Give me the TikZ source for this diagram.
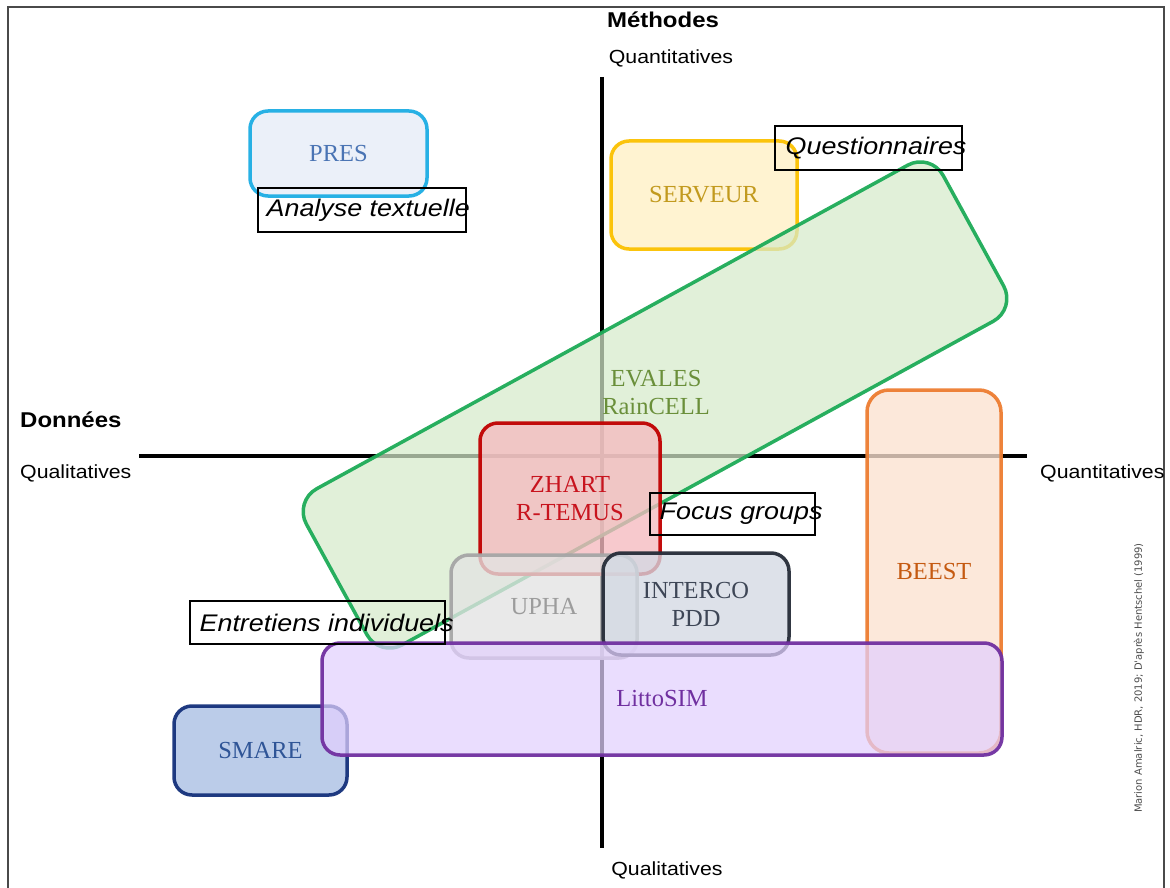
\documentclass[tikz,border=0pt]{standalone}
\usepackage{fontspec}
\newfontfamily\mysans[FakeStretch=1.12]{Liberation Sans}
\newfontfamily\myserif{Liberation Serif}
\newfontfamily\mycredit{DejaVu Sans}
\definecolor{presS}{HTML}{1CADE4}\definecolor{presF}{HTML}{E6ECF7}\definecolor{presT}{HTML}{4A74B4}
\definecolor{servS}{HTML}{FBC100}\definecolor{servF}{HTML}{FFEFC4}\definecolor{servT}{HTML}{C29A1E}
\definecolor{evaS}{HTML}{1DAB57}\definecolor{evaF}{HTML}{D5EACB}\definecolor{evaT}{HTML}{6A8F3A}
\definecolor{zhS}{HTML}{C00000}\definecolor{zhF}{HTML}{F5BABF}\definecolor{zhT}{HTML}{C8141E}
\definecolor{upS}{HTML}{A6A6A6}\definecolor{upF}{HTML}{E3E3E3}\definecolor{upT}{HTML}{9C9C9C}
\definecolor{inS}{HTML}{262C38}\definecolor{inF}{HTML}{D3D9E3}\definecolor{inT}{HTML}{3E4656}
\definecolor{liS}{HTML}{7030A0}\definecolor{liF}{HTML}{E2D0FE}\definecolor{liT}{HTML}{7030A0}
\definecolor{smS}{HTML}{14307A}\definecolor{smF}{HTML}{B4C7E7}\definecolor{smT}{HTML}{2F5597}
\definecolor{beS}{HTML}{ED7D31}\definecolor{beF}{HTML}{FBE1D0}\definecolor{beT}{HTML}{C55A11}
\definecolor{frameC}{HTML}{4A4A4A}
\tikzset{
  pbox/.style={draw, rounded corners=18pt, line width=3.5pt, fill opacity=0.78, draw opacity=0.95, text opacity=1,
    inner sep=0pt, align=center, font=\myserif\fontsize{24.5}{28}\selectfont},
  lblbox/.style={draw=black, line width=1.1pt, inner sep=0pt},
  lbltext/.style={font=\mysans\itshape\fontsize{24}{28}\selectfont, inner sep=0pt, anchor=west},
  axtext/.style={font=\mysans\fontsize{19}{22}\selectfont, inner sep=0pt},
  axtitle/.style={font=\mysans\bfseries\fontsize{21.4}{24}\selectfont, inner sep=0pt},
  axisline/.style={line width=4pt, black}
}
\begin{document}
\begin{tikzpicture}[x=1pt,y=-1pt]
\useasboundingbox (0,0) rectangle (1170,888);
% frame
\coordinate (f1) at (8,890); \coordinate (f2) at (8,7); \coordinate (f3) at (1164,7); \coordinate (f4) at (1164,890);
\draw[frameC, line width=2pt] (f1) -- (f2) -- (f3) -- (f4);
% axes
\coordinate (vtop) at (602,77); \coordinate (vbot) at (602,848);
\coordinate (hl) at (139,456); \coordinate (hr) at (1027,456);
\draw[axisline] (vtop) -- (vbot);
\draw[axisline] (hl) -- (hr);
% axis texts
\node[axtitle] (meth) at (663,20) {Méthodes};
\node[axtext] (qtop) at (671,58) {Quantitatives};
\node[axtext] (qbot) at (667,870) {Qualitatives};
\node[axtitle, anchor=west] (donn) at (20,420) {Données};
\node[axtext, anchor=west] (qleft) at (20,473) {Qualitatives};
\node[axtext, anchor=west] (qright) at (1040,473) {Quantitatives};
\node[font=\mycredit\fontsize{10}{12}\selectfont, text=black!70, rotate=90, inner sep=0pt] (credit) at (1139,678) {Marion Amalric, HDR, 2019; D'après Hentschel (1999)};
% boxes
\node[pbox, draw=presS, fill=presF, text=presT, minimum width=177pt, minimum height=85pt] (pres) at (338.5,153.5) {PRES};
\node[pbox, draw=servS, fill=servF, text=servT, minimum width=186pt, minimum height=108pt] (serv) at (704,195) {SERVEUR};
\node[pbox, draw=evaS, fill=evaF, fill opacity=0.72, rounded corners=26pt, minimum width=726pt, minimum height=178pt, rotate=28.7] (eva) at (655,405) {};
\node[pbox, text=evaT, fill=none, draw=none] (evat) at (656,393) {EVALES\\RainCELL};
\node[pbox, draw=zhS, fill=zhF, text=zhT, minimum width=180pt, minimum height=151pt] (zh) at (570,498.5) {ZHART\\R-TEMUS};
\node[pbox, draw=upS, fill=upF, text=upT, minimum width=186pt, minimum height=103pt] (up) at (544,606.5) {UPHA};
\node[pbox, draw=inS, fill=inF, text=inT, minimum width=186pt, minimum height=102pt] (inter) at (696,604) {INTERCO\\PDD};
\node[pbox, draw=beS, fill=beF, text=beT, rounded corners=22pt, minimum width=134pt, minimum height=363pt] (beest) at (934,571.5) {BEEST};
\node[pbox, draw=smS, fill=smF, text=smT, fill opacity=0.9, minimum width=173pt, minimum height=89pt] (smare) at (260.5,750.5) {SMARE};
\node[pbox, draw=liS, fill=liF, text=liT, fill opacity=0.72, minimum width=680pt, minimum height=112pt] (litto) at (662,699) {LittoSIM};
% method labels
\node[lblbox, minimum width=208pt, minimum height=44pt] (lat) at (362,210) {};
\node[lbltext] (latt) at ([xshift=9pt]lat.west) {Analyse textuelle};
\node[lblbox, minimum width=187pt, minimum height=44pt] (lq) at (868.5,148) {};
\node[lbltext] (lqt) at ([xshift=11pt]lq.west) {Questionnaires};
\node[lblbox, minimum width=165pt, minimum height=42pt] (lf) at (732.5,514) {};
\node[lbltext] (lft) at ([xshift=10pt]lf.west) {Focus groups};
\node[lblbox, minimum width=255pt, minimum height=43pt] (le) at (317.5,622.5) {};
\node[lbltext] (let) at ([xshift=10pt]le.west) {Entretiens individuels};
\end{tikzpicture}
\end{document}
